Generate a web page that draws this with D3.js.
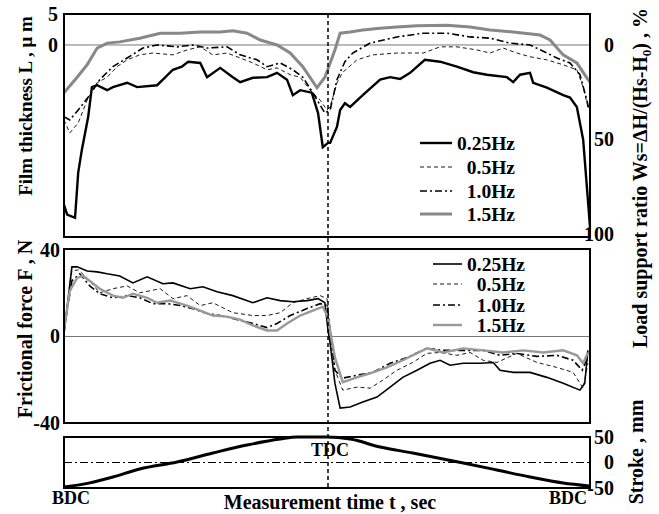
<!DOCTYPE html>
<html>
<head>
<meta charset="utf-8">
<script src="https://cdn.jsdelivr.net/npm/d3@7"></script>
<style>
  body { margin: 0; background: #fff; }
  text { font-family: "Liberation Serif", "Times New Roman", serif; font-weight: bold; }
</style>
</head>
<body>
<div id="chart"></div>
<script>
const width = 659;
const height = 514;

// film thickness L (um) vs measurement time (% of cycle)
const film025 = [[0,-25.8],[0.6,-27.4],[2.1,-27.9],[2.7,-20.6],[3.4,-16.9],[4.6,-11.6],[5.3,-6.8],[6.3,-6.5],[8.2,-7.3],[9.3,-6.8],[12,-6.1],[13.9,-6.8],[17.7,-6.5],[18.8,-5.6],[20.7,-4.0],[22.4,-3.5],[23.6,-2.7],[25.9,-2.9],[27.2,-5.2],[29.7,-3.7],[32.1,-5.2],[33.5,-6.0],[35.9,-5.3],[38.6,-5.2],[40.5,-4.5],[42.4,-5.6],[43.5,-8.1],[44.9,-7.3],[47.1,-7.7],[48.3,-11.0],[49.2,-16.5],[50.2,-15.8],[50.6,-15.8],[51.9,-13.2],[52.5,-10.5],[53.4,-9.4],[54.4,-10.0],[56.8,-8.1],[60.1,-5.6],[62,-5.2],[63.9,-5.5],[65.8,-4.5],[68.6,-2.4],[71.5,-2.7],[74.7,-3.5],[77.8,-4.4],[80.4,-4.8],[84.2,-5.2],[85.4,-6.0],[86.7,-4.8],[88.6,-4.5],[89.2,-6.1],[91.8,-6.9],[94.9,-8.1],[96.2,-8.5],[97.5,-10.0],[98.7,-15.3],[99.6,-25.0],[100,-29.4]];
const film05 = [[0,-12.1],[1.1,-14.2],[2.7,-12.6],[4.4,-8.9],[6.3,-6.1],[8.2,-5.2],[10.1,-3.5],[12,-2.4],[14.4,-1.6],[16.9,-1.3],[20.7,-1.6],[23.4,-0.8],[25.9,-0.3],[28.3,-1.6],[31,-1.3],[33.5,-2.1],[35.9,-2.9],[38.6,-4.0],[40.5,-3.7],[43,-4.8],[44.9,-5.2],[46.8,-7.3],[48.7,-8.9],[50,-10.5],[50.6,-10.0],[51.9,-6.1],[53,-4.4],[55.7,-2.4],[58.7,-1.6],[63.3,-1.3],[68.3,-1.3],[71.5,-0.3],[74.7,-0.3],[78.5,-0.8],[81,-1.3],[83.5,-0.5],[86.1,-1.3],[88.6,-1.9],[91.8,-2.4],[94.9,-3.2],[97.5,-4.0],[98.7,-6.8],[99.6,-10.0]];
const film10 = [[0,-11.6],[1.1,-12.1],[2.7,-10.5],[4.9,-8.1],[6.8,-5.6],[9.3,-3.5],[12,-2.1],[15,-0.5],[17.7,0.0],[21.5,-0.3],[24.5,0.0],[27.2,-0.5],[31,-0.3],[33.5,-1.6],[36.7,-2.4],[38.6,-3.5],[41.1,-2.9],[43.5,-4.0],[45.4,-5.2],[47.3,-7.7],[49.6,-11.0],[50.6,-10.5],[51.9,-5.6],[53.4,-2.7],[54.9,-1.3],[58.2,0.3],[63.3,1.3],[68.3,1.9],[72.8,1.9],[77.2,1.3],[81,1.1],[84.8,0.3],[88.6,0.0],[91.8,-1.3],[93.7,-2.1],[96.2,-2.9],[98.1,-4.8],[99.4,-8.9],[99.8,-10.5]];
const film15 = [[0,-7.7],[2.5,-5.2],[4.4,-3.2],[6.3,-0.5],[8.2,0.3],[10.6,0.5],[14.4,1.1],[18.3,1.9],[22.1,1.9],[25.9,2.1],[29.7,2.1],[32.1,2.3],[34.8,1.9],[37.3,0.8],[40.5,0.0],[43,-1.3],[45.4,-3.5],[48.1,-6.9],[49.6,-5.2],[50.6,-2.9],[51.5,-0.8],[52.5,1.9],[54.4,2.1],[56.8,2.4],[60.1,2.7],[63.3,2.9],[67.1,3.1],[72.8,3.2],[77.2,2.9],[81,2.4],[85.4,2.1],[90.5,1.6],[92.4,0.8],[94.9,-1.6],[97.5,-2.9],[99.4,-5.3],[100,-6.0]];

// frictional force F (N)
const fric025 = [[0,1.4],[0.8,17.9],[1.5,32.2],[2.5,32.2],[4.4,30.3],[6.3,29.9],[8.2,29.0],[10.6,28.0],[13.1,24.8],[15.8,27.6],[18.8,24.4],[20.7,24.8],[24,22.1],[26.4,23.0],[29.1,20.7],[32.1,18.9],[35.9,15.6],[38.6,17.9],[41.1,16.6],[43.5,16.1],[46.2,16.6],[48.3,17.5],[49.6,15.6],[50.2,2.8],[50.6,-3.2],[51.5,-21.6],[52.5,-33.1],[54.4,-32.6],[56.8,-30.3],[59.5,-28.0],[62,-23.4],[64.4,-18.9],[67.1,-15.6],[69.6,-12.4],[71.5,-11.0],[73.4,-13.3],[75.9,-12.4],[79.1,-12.4],[81.6,-12.0],[82.9,-15.6],[85.4,-16.6],[88.6,-16.6],[91.8,-18.9],[94.9,-21.6],[98.1,-24.8],[99,-21.6],[99.6,-6.4]];
const fric05 = [[0,2.8],[1.5,30.3],[2.7,30.8],[4.4,27.1],[6.8,20.2],[9.3,22.1],[12,23.4],[14.4,20.2],[18.3,22.1],[20.7,17.5],[23.4,18.9],[25.9,14.3],[28.3,15.6],[32.1,11.0],[35.9,9.7],[38.6,9.7],[41.1,11.0],[43.5,15.6],[46.2,17.5],[48.7,18.9],[50,17.5],[50.6,2.8],[51.5,-15.6],[53,-24.8],[55.7,-23.4],[58.2,-23.9],[60.6,-20.2],[63.3,-15.6],[66.3,-12.0],[69,-7.8],[71.5,-7.4],[74.7,-8.7],[77.2,-7.4],[79.7,-11.0],[82.3,-12.0],[86.1,-7.8],[89.9,-12.0],[93.7,-14.3],[96.8,-16.6],[98.7,-23.9],[99.6,-12.4]];
const fric10 = [[0,2.8],[1.5,25.7],[3,29.0],[4.9,23.4],[6.8,19.8],[9.3,17.9],[12,18.9],[14.4,17.9],[16.9,15.2],[19.6,15.2],[22.1,14.3],[24.5,12.9],[27.2,10.6],[29.7,9.7],[32.1,8.3],[35.9,6.0],[38.6,4.1],[40.5,6.0],[43,9.7],[46.2,12.9],[48.7,15.2],[50,14.3],[50.6,2.8],[51.5,-15.6],[52.9,-19.3],[55.7,-17.9],[58.7,-16.6],[62,-12.4],[65.2,-9.7],[69,-5.5],[72.1,-6.4],[75.9,-6.4],[79.7,-6.4],[82.9,-8.7],[86.1,-7.8],[89.9,-9.2],[93.7,-8.7],[96.8,-11.0],[98.5,-15.6],[99.6,-9.7]];
const fric15 = [[0,2.8],[1.1,21.1],[2.5,27.1],[3.6,28.0],[4.9,25.7],[6.8,22.1],[9.3,18.9],[11.2,17.9],[13.1,19.8],[15.8,17.9],[17.7,15.6],[20.2,16.6],[23.4,14.3],[25.9,12.0],[28.3,9.7],[31,9.2],[33.5,7.8],[35.9,5.1],[38.6,2.8],[40.5,2.8],[42.4,6.0],[44.9,9.7],[47.3,12.0],[49.2,13.8],[50.2,8.7],[50.6,2.8],[51.5,-9.7],[53,-21.1],[55.7,-18.9],[58.2,-17.0],[61.4,-14.3],[64.4,-11.0],[69,-5.5],[72.1,-7.4],[75.9,-5.5],[79.7,-6.4],[83.5,-7.4],[87.3,-6.4],[91.1,-7.4],[94.9,-6.4],[97.5,-8.7],[98.7,-12.4],[99.6,-7.4]];

// stroke (mm)
const stroke = [[0,-48],[4.9,-40],[9.3,-28.4],[14.4,-12.7],[21.5,1],[28.3,18.6],[34.8,34.3],[41.1,46],[44.3,50],[50,50],[54.4,46],[60.1,30.4],[66.3,18.6],[75.9,-1],[82.3,-14.7],[88.6,-28.4],[94.9,-40.2],[99.8,-46]];

const seriesNames = ["0.25Hz", "0.5Hz", "1.0Hz", "1.5Hz"];
const filmTicks = [5, 0];
const wsTicks = [0, 50, 100];
const fricTicks = [40, 0, -40];
const strokeTicks = [50, 0, -50];

// styles per series: widths for [top panel, middle panel]
const styles = [
    { color: "#000", w: [2.4, 1.6], dash: null },
    { color: "#000", w: [0.9, 0.9], dash: "4,3" },
    { color: "#000", w: [1.6, 1.6], dash: "7,3,2,3" },
    { color: "#888", w: [3, 2.4], dash: null }
];

const svg = d3.select("#chart").append("svg")
    .attr("width", width)
    .attr("height", height)
    .attr("viewBox", [0, 0, width, height]);

const x = d3.scaleLinear().domain([0, 100]).range([64, 590]);
const yFilm = d3.scaleLinear().domain([-31, 5]).range([237, 14]);
const yWs = d3.scaleLinear().domain([0, 100]).range([45, 234]);
const yFric = d3.scaleLinear().domain([-40, 40]).range([423, 250]);
const yStroke = d3.scaleLinear().domain([-50, 50]).range([488, 437]);

function frame(y0, y1) {
    svg.append("rect")
        .attr("x", 64).attr("y", y0)
        .attr("width", 590 - 64).attr("height", y1 - y0)
        .attr("fill", "none").attr("stroke", "#000").attr("stroke-width", 2);
}

function axisLabels(axis, tx, pad) {
    const g = svg.append("g")
        .attr("transform", `translate(${tx},0)`)
        .call(axis.tickSize(0).tickPadding(pad).tickFormat(d => String(d)));
    g.select(".domain").remove();
    g.selectAll("text")
        .attr("font-size", 20)
        .attr("fill", "#000");
    return g;
}

// zero lines
svg.append("line")
    .attr("x1", x(0)).attr("x2", x(100))
    .attr("y1", yFilm(0)).attr("y2", yFilm(0))
    .attr("stroke", "#777").attr("stroke-width", 1);
svg.append("line")
    .attr("x1", x(0)).attr("x2", x(100))
    .attr("y1", yFric(0)).attr("y2", yFric(0))
    .attr("stroke", "#777").attr("stroke-width", 1);
svg.append("line")
    .attr("x1", x(0)).attr("x2", x(100))
    .attr("y1", yStroke(0)).attr("y2", yStroke(0))
    .attr("stroke", "#000").attr("stroke-width", 1)
    .attr("stroke-dasharray", "8,3,2,3");

// film thickness curves
const lineFilm = d3.line().x(d => x(d[0])).y(d => yFilm(d[1]));
[film025, film05, film10, film15].forEach((s, i) => {
    svg.append("path")
        .attr("d", lineFilm(s))
        .attr("fill", "none")
        .attr("stroke", styles[i].color)
        .attr("stroke-width", styles[i].w[0])
        .attr("stroke-dasharray", styles[i].dash);
});

// friction curves
const lineFric = d3.line().x(d => x(d[0])).y(d => yFric(d[1]));
[fric025, fric05, fric10, fric15].forEach((s, i) => {
    svg.append("path")
        .attr("d", lineFric(s))
        .attr("fill", "none")
        .attr("stroke", i == 3 ? "#999" : styles[i].color)
        .attr("stroke-width", styles[i].w[1])
        .attr("stroke-dasharray", styles[i].dash);
});

// stroke curve
svg.append("path")
    .attr("d", d3.line().curve(d3.curveMonotoneX).x(d => x(d[0])).y(d => yStroke(d[1]))(stroke))
    .attr("fill", "none")
    .attr("stroke", "#000")
    .attr("stroke-width", 3);

frame(14, 237);
frame(249, 423);
frame(437, 488);

// TDC line
svg.append("line")
    .attr("x1", x(50) + 1).attr("x2", x(50) + 1)
    .attr("y1", 14).attr("y2", 488)
    .attr("stroke", "#000").attr("stroke-width", 1.5)
    .attr("stroke-dasharray", "4,3");

// tick labels
axisLabels(d3.axisLeft(yFilm).tickValues(filmTicks), 64, 6);
axisLabels(d3.axisLeft(yFric).tickValues(fricTicks), 64, 4);
axisLabels(d3.axisRight(yWs).tickValues(wsTicks), 590, 0)
    .selectAll("text").attr("text-anchor", "end").attr("x", 24);
axisLabels(d3.axisRight(yStroke).tickValues(strokeTicks), 590, 0)
    .selectAll("text").attr("text-anchor", "end").attr("x", 24);

// legends
function legend(x0, x1, xr, ys, wIdx, fs) {
    ys.forEach((yy, i) => {
        svg.append("line")
            .attr("x1", x0).attr("x2", x1)
            .attr("y1", yy).attr("y2", yy)
            .attr("stroke", (wIdx == 1 && i == 3) ? "#999" : styles[i].color)
            .attr("stroke-width", styles[i].w[wIdx])
            .attr("stroke-dasharray", styles[i].dash);
        svg.append("text")
            .attr("x", xr).attr("y", yy)
            .attr("dy", "0.35em")
            .attr("text-anchor", "end")
            .attr("font-size", fs)
            .text(seriesNames[i]);
    });
}
legend(420, 452, 515, [143, 167, 191, 214], 0, 19.5);
legend(433, 462, 525, [264, 284, 305, 325], 1, 19.5);

// annotations
svg.append("text").attr("x", 330).attr("y", 450).attr("dy", "0.35em")
    .attr("text-anchor", "middle").attr("font-size", 18).text("TDC");
svg.append("text").attr("x", 71).attr("y", 498).attr("dy", "0.35em")
    .attr("text-anchor", "middle").attr("font-size", 18).text("BDC");
svg.append("text").attr("x", 568).attr("y", 498).attr("dy", "0.35em")
    .attr("text-anchor", "middle").attr("font-size", 18).text("BDC");

// axis titles
svg.append("text").attr("x", 330).attr("y", 509)
    .attr("text-anchor", "middle").attr("font-size", 20)
    .text("Measurement time t , sec");

svg.append("text")
    .attr("transform", "translate(25,106) rotate(-90)")
    .attr("dy", "0.35em").attr("text-anchor", "middle").attr("font-size", 19)
    .text("Film thickness L , \u03bc m");

svg.append("text")
    .attr("transform", "translate(25,329) rotate(-90)")
    .attr("dy", "0.35em").attr("text-anchor", "middle").attr("font-size", 20)
    .text("Frictional force F , N");

const ws = svg.append("text")
    .attr("transform", "translate(640,178) rotate(-90)")
    .attr("dy", "0.35em").attr("text-anchor", "middle").attr("font-size", 20);
ws.append("tspan").text("Load support ratio Ws=\u0394H/(Hs-H");
ws.append("tspan").attr("font-size", 13).attr("dy", 4).text("0");
ws.append("tspan").attr("dy", -4).text(") , %");

svg.append("text")
    .attr("transform", "translate(636,452) rotate(-90)")
    .attr("dy", "0.35em").attr("text-anchor", "middle").attr("font-size", 20)
    .text("Stroke , mm");
</script>
</body>
</html>
